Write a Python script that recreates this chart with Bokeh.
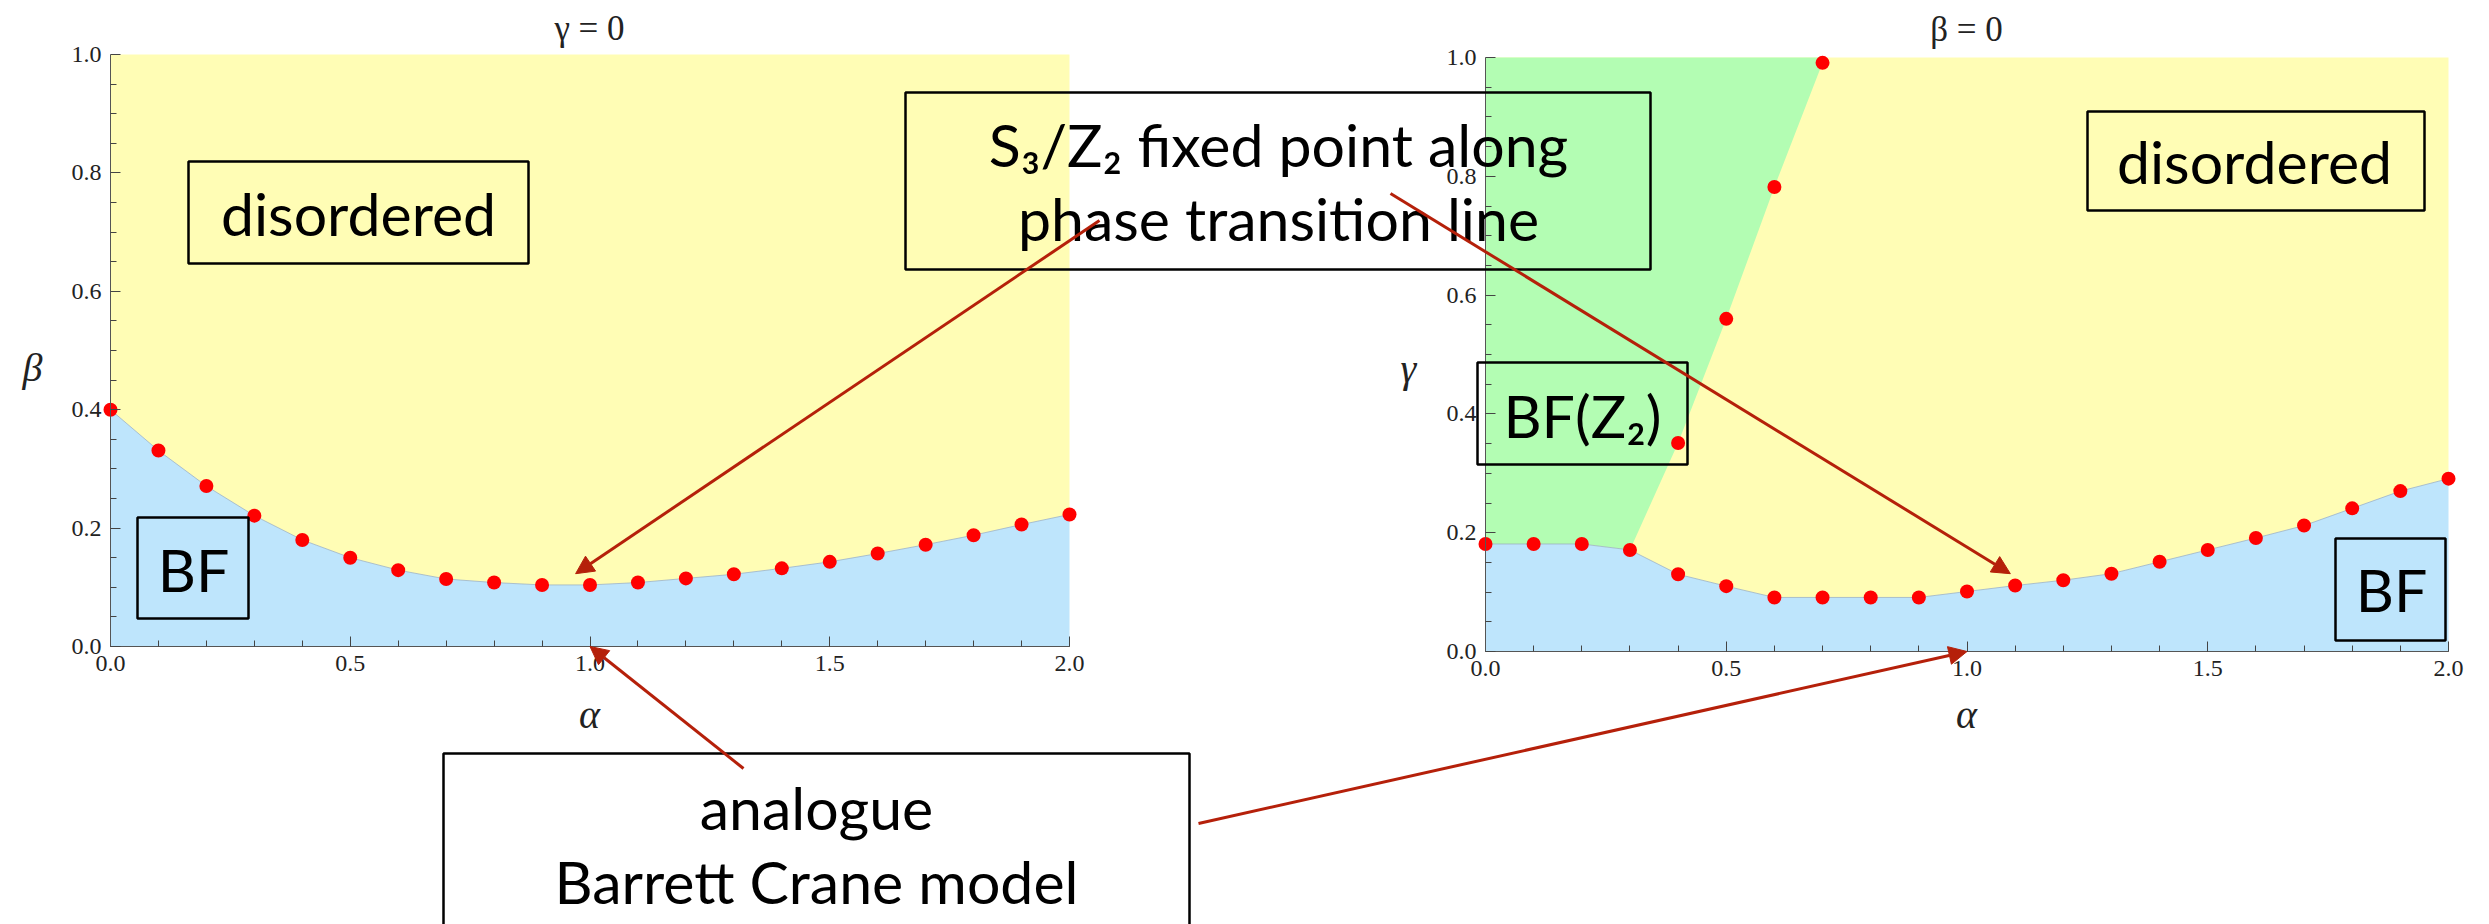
from bokeh.plotting import figure
from bokeh.models import (Range1d, FixedTicker, PrintfTickFormatter, Label, Arrow,
                          NormalHead, BoxAnnotation, LinearAxis)
from bokeh.embed import file_html
from bokeh.resources import INLINE

# ---------------- data ----------------
alpha = [0.0, 0.1, 0.2, 0.3, 0.4, 0.5, 0.6, 0.7, 0.8, 0.9, 1.0,
         1.1, 1.2, 1.3, 1.4, 1.5, 1.6, 1.7, 1.8, 1.9, 2.0]
# gamma = 0 : critical beta along the BF / disordered transition
beta_crit = [0.400, 0.331, 0.271, 0.221, 0.180, 0.150, 0.129, 0.114, 0.108, 0.104, 0.104,
             0.108, 0.115, 0.122, 0.132, 0.143, 0.157, 0.172, 0.188, 0.206, 0.223]
# beta = 0 : critical gamma along the BF / (disordered, BF(Z2)) transition
gamma_crit = [0.181, 0.181, 0.181, 0.171, 0.130, 0.110, 0.091, 0.091, 0.091, 0.091, 0.101,
              0.111, 0.120, 0.131, 0.151, 0.171, 0.191, 0.212, 0.241, 0.270, 0.291]
# beta = 0 : BF(Z2) / disordered transition
z2_alpha = [0.3, 0.4, 0.5, 0.6, 0.7]
z2_gamma = [0.171, 0.351, 0.560, 0.782, 0.991]

x_major = [0.0, 0.5, 1.0, 1.5, 2.0]
y_major = [0.0, 0.2, 0.4, 0.6, 0.8, 1.0]
y_minor = [0.05, 0.1, 0.15, 0.25, 0.3, 0.35, 0.45, 0.5, 0.55, 0.65, 0.7, 0.75,
           0.85, 0.9, 0.95]

# points marked by arrows (data units of each panel)
fixed_pt_left = (0.97, 0.123)
fixed_pt_right = (1.09, 0.131)
bc_pt_left = (1.0, 0.0)
bc_pt_right = (1.0, 0.0)

# ---------------- geometry / styling ----------------
W, H, M = 2489, 924, 0
X_RANGE = (0.0, 2.0)
Y_RANGE = (0.0, 1.0)
GL = dict(x0=110, x1=1069, y0=54, y1=646)    # left panel frame (page px)
GR = dict(x0=1485, x1=2448, y0=57, y1=651)   # right panel frame (page px)

YELLOW = "#FFFDB5"
BLUE = "#BEE5FC"
GREEN = "#B3FDB3"
RED = "#FF0000"
ARROW = "#B5200A"
FONT = "Lato"
TXT = 59
SERIF = "Liberation Serif"
BASE_SHIFT = 0.33   # label anchor correction (fraction of font size)


def to_data(g, X, Y):
    a = X_RANGE[0] + (X - g["x0"]) / (g["x1"] - g["x0"]) * (X_RANGE[1] - X_RANGE[0])
    b = Y_RANGE[0] + (g["y1"] - Y) / (g["y1"] - g["y0"]) * (Y_RANGE[1] - Y_RANGE[0])
    return a, b


def to_page(g, a, b):
    X = g["x0"] + (a - X_RANGE[0]) / (X_RANGE[1] - X_RANGE[0]) * (g["x1"] - g["x0"])
    Y = g["y1"] - (b - Y_RANGE[0]) / (Y_RANGE[1] - Y_RANGE[0]) * (g["y1"] - g["y0"])
    return X, Y


def canvas_ranges(g):
    xs, ys = to_data(g, M, M + H)
    xe, ye = to_data(g, M + W, M)
    return Range1d(xs, xe), Range1d(ys, ye)


xrL, yrL = canvas_ranges(GL)
xrR, yrR = canvas_ranges(GR)

p = figure(width=W, height=H, x_range=xrL, y_range=yrL,
           output_backend="svg", toolbar_location=None,
           min_border_left=0, min_border_right=0, min_border_top=0, min_border_bottom=0,
           outline_line_color=None, background_fill_color="white")
p.extra_x_ranges = {"R": xrR}
p.extra_y_ranges = {"R": yrR}
p.grid.visible = False


def style_axis(ax, ticks, minor):
    ax.ticker = FixedTicker(ticks=ticks, minor_ticks=minor)
    ax.formatter = PrintfTickFormatter(format="%.1f")
    ax.axis_line_color = "#555555"
    ax.major_tick_line_color = "#444444"
    ax.minor_tick_line_color = "#444444"
    ax.major_tick_in = 10
    ax.major_tick_out = 0
    ax.minor_tick_in = 6
    ax.minor_tick_out = 0
    ax.major_label_text_font = SERIF
    ax.major_label_text_font_size = "24px"
    ax.major_label_text_color = "#222222"
    ax.major_label_standoff = 9


# ---------------- left panel: gamma = 0 ----------------
top_L = [Y_RANGE[1]] * len(alpha)
bot_L = [Y_RANGE[0]] * len(alpha)
p.varea(x=alpha, y1=beta_crit, y2=top_L, fill_color=YELLOW)
p.varea(x=alpha, y1=bot_L, y2=beta_crit, fill_color=BLUE)
p.line(alpha, beta_crit, line_color="#9DB3C2", line_width=1, line_alpha=0.8)
p.scatter(alpha, beta_crit, size=14, fill_color=RED, line_color=None)

xL = p.xaxis[0]
xL.fixed_location = Y_RANGE[0]
xL.bounds = X_RANGE
style_axis(xL, x_major, alpha)
yL = p.yaxis[0]
yL.fixed_location = X_RANGE[0]
yL.bounds = Y_RANGE
style_axis(yL, y_major, y_minor)

# ---------------- right panel: beta = 0 ----------------
R = dict(x_range_name="R", y_range_name="R")
p.varea(x=alpha, y1=gamma_crit, y2=top_L, fill_color=YELLOW, **R)
n_low = alpha.index(z2_alpha[0]) + 1
a_top = z2_alpha[-1] + (Y_RANGE[1] - z2_gamma[-1]) * (z2_alpha[-1] - z2_alpha[-2]) / (z2_gamma[-1] - z2_gamma[-2])
green_x = alpha[:n_low] + z2_alpha[1:] + [a_top, X_RANGE[0]]
green_y = gamma_crit[:n_low] + z2_gamma[1:] + [Y_RANGE[1], Y_RANGE[1]]
p.patch(green_x, green_y, fill_color=GREEN, line_color=None, **R)
p.varea(x=alpha, y1=bot_L, y2=gamma_crit, fill_color=BLUE, **R)
p.line(alpha, gamma_crit, line_color="#9DB3C2", line_width=1, line_alpha=0.8, **R)
p.scatter(alpha, gamma_crit, size=14, fill_color=RED, line_color=None, **R)
p.scatter(z2_alpha[1:], z2_gamma[1:], size=14, fill_color=RED, line_color=None, **R)

xR = LinearAxis(fixed_location=Y_RANGE[0], bounds=X_RANGE, **R)
style_axis(xR, x_major, alpha)
p.add_layout(xR, "below")
yR = LinearAxis(fixed_location=X_RANGE[0], bounds=Y_RANGE, **R)
style_axis(yR, y_major, y_minor)
p.add_layout(yR, "left")


# ---------------- annotations (positions in page px) ----------------
def box(X0, Y0, X1, Y1):
    l, t = to_data(GL, X0, Y0)
    r, b = to_data(GL, X1, Y1)
    p.add_layout(BoxAnnotation(left=l, right=r, top=t, bottom=b,
                               fill_alpha=0, line_color="black", line_alpha=1.0,
                               line_width=2.5))


def text(X, Y, s, font=FONT, size=TXT, style="normal", color="black"):
    x, y = to_data(GL, X, Y - BASE_SHIFT * size)
    p.add_layout(Label(x=x, y=y, text=s, text_align="center",
                       text_baseline="alphabetic", text_font=font,
                       text_font_size=f"{size}px",
                       text_font_style=style, text_color=color))


def arrow(X0, Y0, g, end):
    xs, ys = to_data(GL, X0, Y0)
    xe, ye = to_data(GL, *to_page(g, *end))
    p.add_layout(Arrow(end=NormalHead(size=18, fill_color=ARROW, line_color=ARROW),
                       x_start=xs, y_start=ys, x_end=xe, y_end=ye,
                       line_color=ARROW, line_width=3))


# titles and axis names (x = centre, y = baseline, page px)
text(589, 40, "γ = 0", font=SERIF, size=35, color="#222222")
text(1966, 41, "β = 0", font=SERIF, size=35, color="#222222")
text(589, 727, "α", font=SERIF, size=40, style="italic", color="#222222")
text(1966, 727, "α", font=SERIF, size=40, style="italic", color="#222222")
text(32, 380, "β", font=SERIF, size=40, style="italic", color="#222222")
text(1408, 381, "γ", font=SERIF, size=40, style="italic", color="#222222")

# phase labels
box(188, 161, 528, 263)
text(358, 232, "disordered")
box(137, 517, 248, 618)
text(193, 588, "BF")
box(2087, 111, 2424, 210)
text(2254, 180, "disordered")
box(1477, 362, 1687, 464)
text(1582, 434, "BF(Z₂)")
box(2335, 538, 2445, 640)
text(2391, 608, "BF")

# call-outs
box(905, 92, 1650, 269)
text(1278, 163, "S₃/Z₂ fixed point along")
text(1278, 237, "phase transition line")
arrow(1099, 220, GL, fixed_pt_left)
arrow(1390, 193, GR, fixed_pt_right)

box(443, 753, 1189, 990)
text(816, 826, "analogue")
text(816, 900, "Barrett Crane model")
arrow(743, 768, GL, bc_pt_left)
arrow(1198, 823, GR, bc_pt_right)

open("out.html", "w").write(file_html(p, INLINE))
